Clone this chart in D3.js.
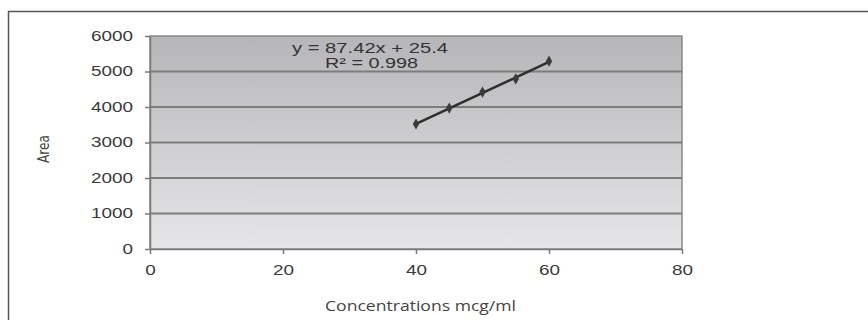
<!DOCTYPE html>
<html>
<head>
<meta charset="utf-8">
<script src="https://cdn.jsdelivr.net/npm/d3@7"></script>
<style>
  body { margin: 0; background: #fff; }
  svg text { font-family: 'Liberation Sans', Arial, sans-serif; }
  .axis text { fill: #3a3a3a; font-size: 14px; }
  .axis path, .axis line { stroke: #7a7a7a; stroke-width: 1.5px; }
</style>
</head>
<body>
<svg width="868" height="320"></svg>
<script>
const concentrations = [40, 45, 50, 55, 60]
const areas = [3520, 3970, 4420, 4790, 5290]
const xTicks = [0, 20, 40, 60, 80]
const yTicks = [0, 1000, 2000, 3000, 4000, 5000, 6000]
const slope = 87.42
const intercept = 25.4
const equationLabel = 'y = 87.42x + 25.4'
const r2Label = 'R² = 0.998'

const margin = { top: 36, right: 186, bottom: 71, left: 150 }
const w = 868
const h = 320
const width = w - margin.left - margin.right
const height = h - margin.top - margin.bottom
const stretch = 1.35 // the source image is widened horizontally

const svg = d3.select('svg')

// outer frame (top + left edges visible)
svg.append('line').attr('x1', 8).attr('x2', w).attr('y1', 11.5).attr('y2', 11.5)
  .attr('stroke', '#555').attr('stroke-width', 1.5)
svg.append('line').attr('x1', 8.5).attr('x2', 8.5).attr('y1', 11).attr('y2', h)
  .attr('stroke', '#555').attr('stroke-width', 1.5)

const x = d3.scaleLinear().domain([0, 80]).range([0, width])
const y = d3.scaleLinear().domain([0, 6000]).range([height, 0])

const defs = svg.append('defs')
const grad = defs.append('linearGradient').attr('id', 'bg')
  .attr('x1', 0).attr('y1', 0).attr('x2', 0).attr('y2', 1)
grad.append('stop').attr('offset', '0%').attr('stop-color', '#b6b6b9')
grad.append('stop').attr('offset', '100%').attr('stop-color', '#e6e6e8')

const g = svg.append('g').attr('transform', `translate(${margin.left},${margin.top})`)

g.append('rect')
  .attr('width', width).attr('height', height)
  .attr('fill', 'url(#bg)')
  .attr('stroke', '#8a8a8a').attr('stroke-width', 1.5)

g.append('g')
  .selectAll('line')
  .data(yTicks.filter(d => d > 0 && d < 6000))
  .join('line')
  .attr('x1', 0).attr('x2', width)
  .attr('y1', d => y(d)).attr('y2', d => y(d))
  .attr('stroke', '#7c7c7c').attr('stroke-width', 1.8)

const axisX = d3.axisBottom(x).tickValues(xTicks).tickFormat(d3.format('d'))
  .tickSize(5).tickSizeOuter(0).tickPadding(11)
g.append('g').attr('class', 'axis')
  .attr('transform', `translate(0,${height})`)
  .call(axisX)
  .selectAll('text')
  .attr('transform', `scale(${stretch},1)`)

const axisY = d3.axisLeft(y).tickValues(yTicks).tickFormat(d3.format('d'))
  .tickSize(5).tickSizeOuter(0)
g.append('g').attr('class', 'axis').call(axisY)
  .selectAll('text')
  .attr('x', -17 / stretch)
  .attr('transform', `scale(${stretch},1)`)

// trendline
const xs = d3.extent(concentrations)
g.append('line')
  .attr('x1', x(xs[0])).attr('y1', y(slope * xs[0] + intercept))
  .attr('x2', x(xs[1])).attr('y2', y(slope * xs[1] + intercept))
  .attr('stroke', '#2e2e2e').attr('stroke-width', 2.5)

g.append('g')
  .selectAll('path')
  .data(concentrations.map((c, i) => [c, areas[i]]))
  .join('path')
  .attr('d', d3.symbol(d3.symbolDiamond, 36))
  .attr('transform', d => `translate(${x(d[0])},${y(d[1])})`)
  .attr('fill', '#3a3a3a')

g.append('text')
  .attr('x', 142).attr('y', 17)
  .attr('font-size', 14).attr('fill', '#333')
  .attr('textLength', 156).attr('lengthAdjust', 'spacingAndGlyphs')
  .text(equationLabel)
g.append('text')
  .attr('x', 175).attr('y', 32)
  .attr('font-size', 14).attr('fill', '#333')
  .attr('textLength', 93).attr('lengthAdjust', 'spacingAndGlyphs')
  .text(r2Label)

svg.append('text')
  .attr('transform', 'translate(49,149) rotate(-90)')
  .attr('text-anchor', 'middle')
  .attr('font-size', 16)
  .style('font-family', "'DejaVu Sans Condensed', 'Liberation Sans Narrow', sans-serif")
  .attr('fill', '#444')
  .attr('textLength', 28).attr('lengthAdjust', 'spacingAndGlyphs')
  .text('Area')

svg.append('text')
  .attr('x', 325).attr('y', 311)
  .attr('font-size', 15)
  .style('font-family', "'Open Sans', sans-serif")
  .attr('fill', '#444')
  .attr('textLength', 191).attr('lengthAdjust', 'spacingAndGlyphs')
  .text('Concentrations mcg/ml')
</script>
</body>
</html>
